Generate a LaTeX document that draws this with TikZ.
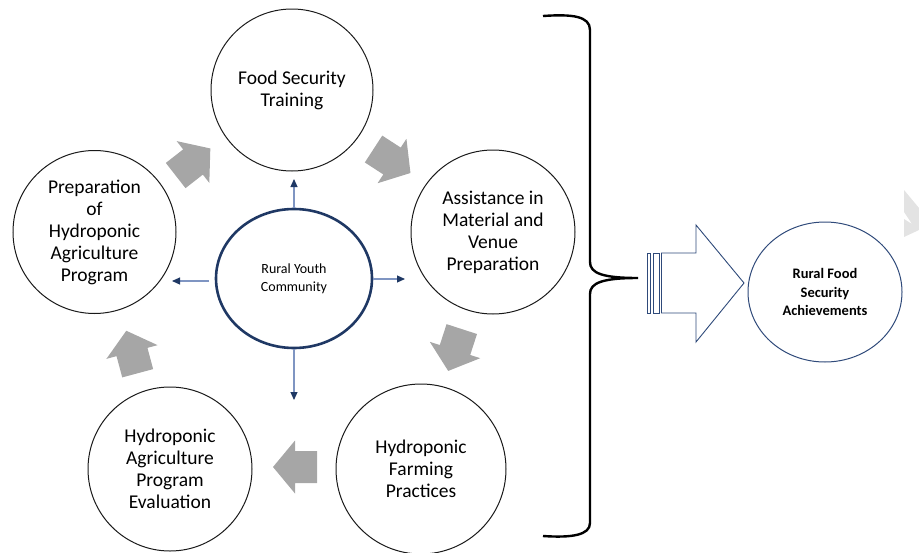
\documentclass[tikz,border=0pt]{standalone}
\usepackage{fontspec}
\setmainfont{Carlito}
\usetikzlibrary{shapes.geometric,arrows.meta}
\definecolor{navyc}{HTML}{1F3864}
\definecolor{steelc}{HTML}{7F95C2}
\definecolor{grayarrow}{HTML}{A6A6A6}
\definecolor{circline}{HTML}{1A1A1A}
\definecolor{achline}{HTML}{2F4A7A}
\definecolor{wmark}{HTML}{E3E3E3}
\begin{document}
\begin{tikzpicture}[x=1pt,y=-1pt,
  stage/.style={circle,draw=circline,line width=1pt,inner sep=0pt,align=center,
    font=\fontsize{19.5}{22}\selectfont},
  hub/.style={ellipse,draw=navyc,line width=2.6pt,inner sep=0pt,align=center,
    minimum width=156pt,minimum height=139pt,font=\fontsize{14}{18}\selectfont},
  goal/.style={ellipse,draw=achline,line width=1pt,inner sep=0pt,align=center,
    minimum width=154pt,minimum height=140pt,font=\fontsize{14.5}{18.5}\selectfont\bfseries},
  spoke/.style={draw=steelc,line width=1.1pt,-{Triangle[length=8pt,width=7pt,color=navyc]}},
  grayblock/.style={fill=grayarrow},
  brace/.style={draw=black,line width=2.4pt},
  bigarrow/.style={draw=achline,line width=0.9pt,fill=white},
  garrow/.pic={\fill[grayblock] (-22,-16) -- (0,-16) -- (0,-26.5) -- (22,0) -- (0,26.5) -- (0,16) -- (-22,16) -- cycle;}
]
\useasboundingbox (0,0) rectangle (919,552);

% stages
\node[stage,minimum size=162pt] (fst) at (292,90) {Food Security\\Training};
\node[stage,minimum size=164pt] (avp) at (493,232) {Assistance in\\Material and\\Venue\\Preparation};
\node[stage,minimum size=163pt] (php) at (94.5,232) {Preparation\\of\\Hydroponic\\Agriculture\\Program};
\node[stage,minimum size=170pt] (hfp) at (421,469) {Hydroponic\\Farming\\Practices};
\node[stage,minimum size=164pt] (hape) at (170,469) {Hydroponic\\Agriculture\\Program\\Evaluation};

% hub
\node[hub] (ryc) at (294,278.5) {Rural Youth\\Community};

% spokes
\coordinate (upend) at (294,179);
\coordinate (rightend) at (405,279);
\coordinate (downend) at (294,400);
\coordinate (leftstart) at (209,281);
\coordinate (leftend) at (172,281);
\draw[spoke] (ryc.north) -- (upend);
\draw[spoke] (ryc.east |- rightend) -- (rightend);
\draw[spoke] (ryc.south) -- (downend);
\draw[spoke] (leftstart) -- (leftend);

% gray block arrows
\pic[rotate=38] at (193,162) {garrow};
\pic[rotate=-33] at (392,161) {garrow};
\pic[rotate=-108] at (455,350) {garrow};
\pic[rotate=180] at (295,467) {garrow};
\pic[rotate=105] at (132,352) {garrow};

% brace
\draw[brace] (543,16) .. controls (572,14) and (590,16) .. (590,30) -- (590,262)
  .. controls (590,273) and (602,278) .. (638,278)
  .. controls (602,278) and (590,283) .. (590,294) -- (590,523)
  .. controls (590,535) and (572,538) .. (543,536);

% big striped arrow
\draw[bigarrow] (661.5,253) -- (696,253) -- (696,225) -- (744,283) -- (696,342) -- (696,313) -- (661.5,313) -- cycle;
\draw[bigarrow] (647,253) rectangle (650,313);
\draw[bigarrow] (653,253) rectangle (659,313);

% goal
\node[goal] (rfsa) at (825,292) {Rural Food\\Security\\Achievements};

% faint watermark fragment
\fill[wmark] (904,190) -- (919,208) -- (919,230) -- (904,237) -- (904,219) -- (912,224) -- (904,212) -- cycle;
\end{tikzpicture}
\end{document}
